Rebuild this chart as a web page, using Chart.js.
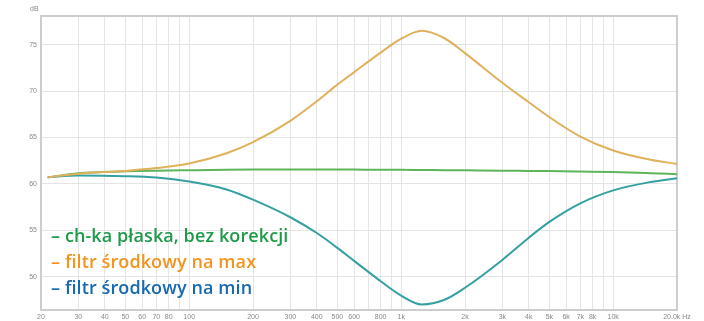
<!DOCTYPE html>
<html>
<head>
<meta charset="utf-8">
<script src="https://cdn.jsdelivr.net/npm/chart.js@4/dist/chart.umd.min.js"></script>
<style>
  html, body { margin: 0; padding: 0; background: #fff; }
  #wrap { position: relative; width: 704px; height: 321px; }
  canvas { position: absolute; left: 0; top: 0; }
  .leg { position: absolute; left: 51px; font-family: "Open Sans", sans-serif; font-weight: 600;
         font-size: 18px; letter-spacing: 0.1px; line-height: 26px; white-space: nowrap; }
  #unit { position: absolute; left: 30px; top: 5px; font-family: "Liberation Sans", Arial, sans-serif;
          font-size: 7px; color: #888; }
</style>
</head>
<body>
<div id="wrap">
  <canvas id="c" width="704" height="321"></canvas>
  <div id="unit">dB</div>
  <div class="leg" style="top:222px;color:#1e9a4a">– ch-ka płaska, bez korekcji</div>
  <div class="leg" style="top:248px;color:#f4931e">– filtr środkowy na max</div>
  <div class="leg" style="top:274px;color:#1769b0">– filtr środkowy na min</div>
</div>
<script>
// Frequency response, Hz -> dB
const freqs    = [21.5, 30, 50, 70, 100, 150, 200, 300, 400, 500, 600, 800, 1000, 1250, 1600, 2000, 3000, 4000, 5000, 7000, 10000, 15000, 20000];
const flatResp = [60.7, 61.15, 61.35, 61.42, 61.47, 61.52, 61.54, 61.55, 61.55, 61.55, 61.54, 61.53, 61.52, 61.5, 61.48, 61.46, 61.42, 61.4, 61.38, 61.33, 61.27, 61.15, 61.05];
const midMax   = [60.7, 61.1, 61.4, 61.7, 62.2, 63.3, 64.5, 66.8, 68.9, 70.7, 72.05, 74.15, 75.65, 76.5, 75.7, 74.1, 70.9, 68.8, 67.2, 65.1, 63.6, 62.6, 62.15];
const midMin   = [60.7, 60.9, 60.83, 60.68, 60.25, 59.4, 58.3, 56.4, 54.7, 53.1, 51.7, 49.5, 47.95, 47.0, 47.5, 48.8, 51.8, 54.2, 55.9, 57.9, 59.3, 60.2, 60.6];

// Axis ticks
const xTickValues = [20, 30, 40, 50, 60, 70, 80, 90, 100, 200, 300, 400, 500, 600, 700, 800, 900,
                     1000, 2000, 3000, 4000, 5000, 6000, 7000, 8000, 9000, 10000, 20000];
const xTickLabels = ['20', '30', '40', '50', '60', '70', '80', '', '100', '200', '300', '400', '500', '600', '', '800', '',
                     '1k', '2k', '3k', '4k', '5k', '6k', '7k', '8k', '', '10k', '20.0k Hz'];
const yTickValues = [50, 55, 60, 65, 70, 75];

const toPoints = ys => freqs.map((f, i) => ({ x: f, y: ys[i] }));

// light frame round the plot area
const frame = {
  id: 'frame',
  beforeDatasetsDraw(chart) {
    const a = chart.chartArea, ctx = chart.ctx;
    ctx.save();
    ctx.strokeStyle = '#cdcdcd';
    ctx.lineWidth = 2;
    ctx.strokeRect(a.left, a.top, a.right - a.left, a.bottom - a.top);
    ctx.restore();
  }
};

const tickFont = { family: 'Liberation Sans', size: 7 };

new Chart(document.getElementById('c'), {
  type: 'line',
  data: {
    datasets: [
      { data: toPoints(midMax),   borderColor: '#dfb15c', borderWidth: 2, pointRadius: 0, cubicInterpolationMode: 'monotone' },
      { data: toPoints(midMin),   borderColor: '#35a0a0', borderWidth: 2, pointRadius: 0, cubicInterpolationMode: 'monotone' },
      { data: toPoints(flatResp), borderColor: '#5cb55a', borderWidth: 2, pointRadius: 0, cubicInterpolationMode: 'monotone' }
    ]
  },
  options: {
    responsive: false,
    animation: false,
    devicePixelRatio: 1,
    layout: { padding: { top: 16, right: 27, left: 0, bottom: 0 } },
    plugins: { legend: { display: false }, tooltip: { enabled: false } },
    scales: {
      x: {
        type: 'logarithmic',
        min: 20, max: 20000,
        afterBuildTicks: s => { s.ticks = xTickValues.map(v => ({ value: v })); },
        afterFit: s => { s.height = 11; },
        grid: { color: '#e4e4e4', lineWidth: 1, drawTicks: false },
        border: { display: false },
        ticks: {
          autoSkip: false, maxRotation: 0, padding: 3, color: '#888', font: tickFont,
          callback: (v, i) => xTickLabels[i]
        }
      },
      y: {
        min: 46.4, max: 78.1,
        afterBuildTicks: s => { s.ticks = yTickValues.map(v => ({ value: v })); },
        afterFit: s => { s.width = 41; },
        grid: { color: '#e4e4e4', lineWidth: 1, drawTicks: false },
        border: { display: false },
        ticks: { padding: 4, color: '#888', font: tickFont, callback: v => String(v) }
      }
    }
  },
  plugins: [frame]
});
</script>
</body>
</html>
